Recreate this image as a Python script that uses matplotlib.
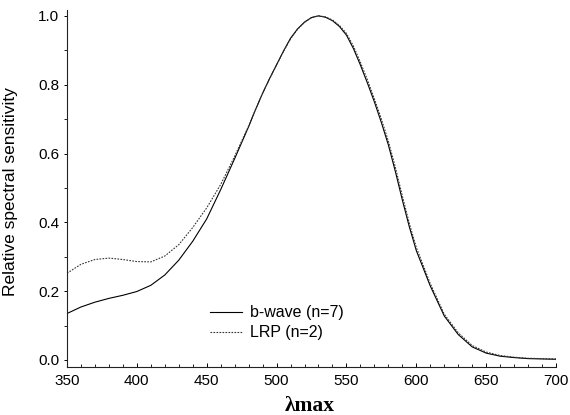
import matplotlib
matplotlib.use("Agg")
import matplotlib.pyplot as plt
from matplotlib.ticker import MultipleLocator

# wavelength (nm)
wl = [350, 360, 370, 380, 390, 400, 410, 420, 430, 440, 450, 460, 470, 480,
      485, 490, 495, 500, 505, 510, 515, 520, 525, 530, 535, 540, 545, 550,
      555, 560, 565, 570, 575, 580, 585, 590, 595, 600, 610, 620,
      630, 640, 650, 660, 670, 680, 690, 700]

bwave = [0.135, 0.154, 0.168, 0.179, 0.188, 0.199, 0.217, 0.247, 0.290, 0.345,
         0.410, 0.495, 0.585, 0.678,
         0.728, 0.775, 0.818, 0.858, 0.898, 0.935, 0.962, 0.982, 0.995, 1.000,
         0.996, 0.986, 0.969, 0.944, 0.905, 0.857, 0.805, 0.750, 0.690, 0.625,
         0.548, 0.465, 0.387, 0.318, 0.215, 0.128,
         0.074, 0.038, 0.020, 0.011, 0.007, 0.004, 0.003, 0.002]

lrp = [0.252, 0.278, 0.292, 0.296, 0.292, 0.286, 0.285, 0.302, 0.335, 0.385,
       0.442, 0.510, 0.592, 0.680,
       0.729, 0.775, 0.817, 0.857, 0.897, 0.933, 0.961, 0.981, 0.995, 1.000,
       0.997, 0.988, 0.972, 0.949, 0.912, 0.865, 0.814, 0.759, 0.700, 0.636,
       0.560, 0.477, 0.397, 0.327, 0.222, 0.133,
       0.079, 0.042, 0.023, 0.013, 0.008, 0.005, 0.004, 0.003]

plt.rcParams['font.family'] = ['Liberation Sans', 'DejaVu Sans']

fig = plt.figure(figsize=(5.7, 4.15), dpi=100)
ax = fig.add_axes([0.1175, 0.1164, 0.858, 0.8595])

ax.plot(wl, bwave, color='black', lw=0.8, label='b-wave (n=7)')
ax.plot(wl, lrp, color='#333333', lw=0.8, linestyle=(0, (1.5, 1.2)), label='LRP (n=2)')

ax.set_xlim(350, 700)
ax.set_ylim(-0.0195, 1.017)

ax.spines['top'].set_visible(False)
ax.spines['right'].set_visible(False)
for s in ('left', 'bottom'):
    ax.spines[s].set_linewidth(0.8)
    ax.spines[s].set_color('#222222')

ax.xaxis.set_major_locator(MultipleLocator(50))
ax.xaxis.set_minor_locator(MultipleLocator(10))
ax.yaxis.set_major_locator(MultipleLocator(0.2))
ax.yaxis.set_minor_locator(MultipleLocator(0.1))
ax.yaxis.set_major_formatter(matplotlib.ticker.FormatStrFormatter('%.1f'))

ax.tick_params(axis='x', which='major', direction='in', length=3, width=0.7, labelsize=11, pad=5)
ax.tick_params(axis='x', which='minor', direction='in', length=2, width=0.6)
ax.tick_params(axis='y', which='major', direction='out', length=2.5, width=0.7, labelsize=11, pad=3)
ax.tick_params(axis='y', which='minor', direction='out', length=2, width=0.6)

ax.set_ylabel('Relative spectral sensitivity', fontsize=12.5)
ax.yaxis.set_label_coords(-0.1, 0.49)
ax.set_xlabel('λmax', fontsize=15.5, fontweight='bold', family='Liberation Serif')
ax.xaxis.set_label_coords(0.497, -0.082)

ax.legend(loc='upper left', bbox_to_anchor=(0.28, 0.19), frameon=False, fontsize=11.5,
          handlelength=2.0, handletextpad=0.5, labelspacing=0.3, borderaxespad=0)

fig.savefig('out.png', dpi=100)
